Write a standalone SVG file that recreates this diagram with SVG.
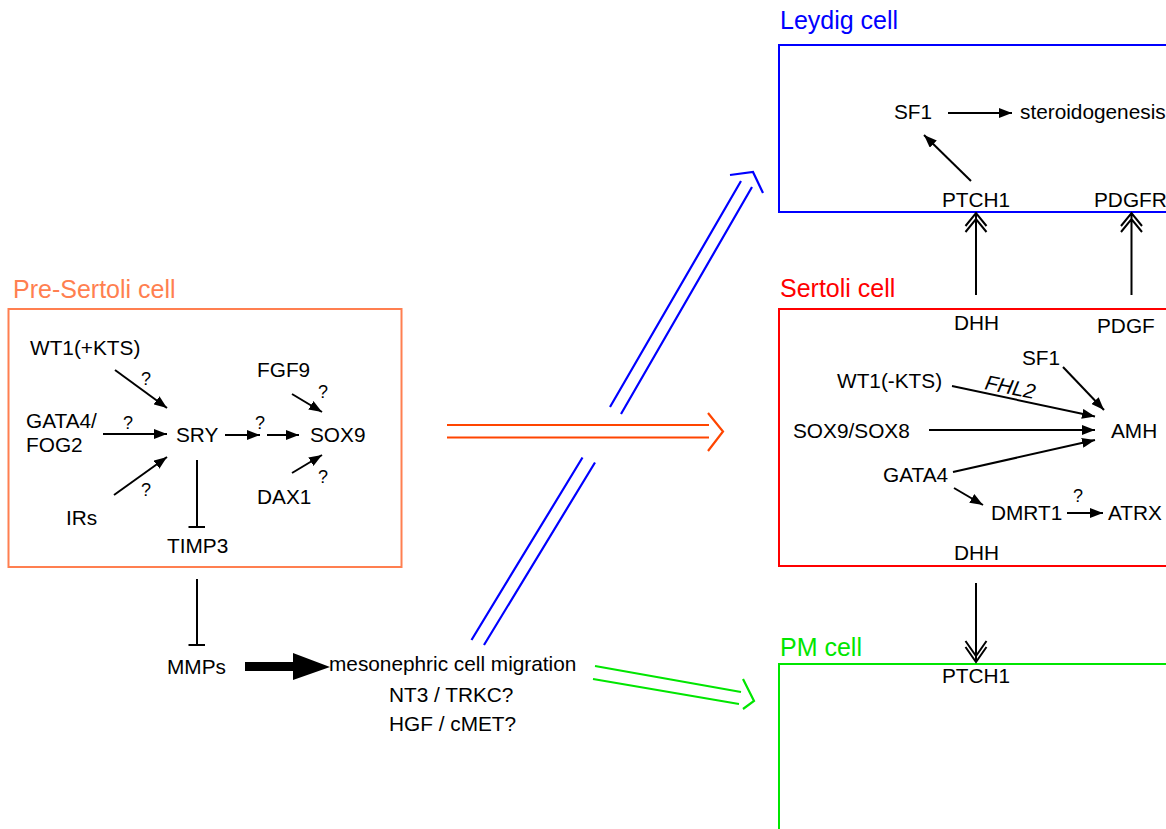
<svg xmlns="http://www.w3.org/2000/svg" width="1166" height="829" viewBox="0 0 1166 829">
<style>
text{font-family:"Liberation Sans",Arial,sans-serif;font-size:20.8px;fill:#000}
.q{font-size:18px}
.lbl{font-size:25px}
.ln{stroke:#000;stroke-width:2;fill:none}
.dbl{stroke-width:2.2;fill:none}
</style>
<defs>
<marker id="ah" markerUnits="userSpaceOnUse" markerWidth="13" markerHeight="10" refX="13" refY="5" orient="auto">
<path d="M0,0 L13,5 L0,10 z" fill="#000"/>
</marker>
</defs>
<rect width="1166" height="829" fill="#fff"/>

<g id="pre-sertoli">
<text class="lbl" x="13" y="298" style="fill:#FF7F50">Pre-Sertoli cell</text>
<rect x="8.5" y="309" width="393" height="258" fill="none" stroke="#FF7F50" stroke-width="2"/>
<text x="30" y="355">WT1(+KTS)</text>
<text x="257" y="377">FGF9</text>
<text x="26" y="428">GATA4/</text>
<text x="26" y="452">FOG2</text>
<text x="176" y="442">SRY</text>
<text x="310" y="442">SOX9</text>
<text x="257" y="504">DAX1</text>
<text x="66" y="525">IRs</text>
<text x="167" y="553">TIMP3</text>
<text class="q" x="141" y="385">?</text>
<text class="q" x="123" y="429">?</text>
<text class="q" x="141" y="496">?</text>
<text class="q" x="255" y="429">?</text>
<text class="q" x="318" y="398">?</text>
<text class="q" x="318" y="483">?</text>
</g>

<g id="leydig">
<text class="lbl" x="780" y="29" style="fill:#0000FF">Leydig cell</text>
<rect x="779" y="45" width="420" height="167" fill="none" stroke="#0000FF" stroke-width="2"/>
<text x="894" y="119">SF1</text>
<text x="1020" y="119">steroidogenesis</text>
<text x="942" y="207">PTCH1</text>
<text x="1094" y="207">PDGFR</text>
</g>

<g id="sertoli">
<text class="lbl" x="780" y="297" style="fill:#FF0000">Sertoli cell</text>
<rect x="779" y="309" width="420" height="257" fill="none" stroke="#FF0000" stroke-width="2"/>
<text x="954" y="330">DHH</text>
<text x="1097" y="333">PDGF</text>
<text x="1022" y="365">SF1</text>
<text x="837" y="388">WT1(-KTS)</text>
<text x="984" y="389" font-style="italic" transform="rotate(11.5 984 389)">FHL2</text>
<text x="793" y="438">SOX9/SOX8</text>
<text x="1111" y="438">AMH</text>
<text x="883" y="482">GATA4</text>
<text x="991" y="520">DMRT1</text>
<text x="1108" y="520">ATRX</text>
<text class="q" x="1073" y="502">?</text>
<text x="954" y="560">DHH</text>
</g>

<g id="pm">
<text class="lbl" x="780" y="656" style="fill:#00E600">PM cell</text>
<path d="M779,835 L779,664 L1170,664" fill="none" stroke="#00E600" stroke-width="2"/>
<text x="942" y="683">PTCH1</text>
</g>

<g id="migration">
<text x="167" y="674">MMPs</text>
<text x="329" y="671">mesonephric cell migration</text>
<text x="389" y="702">NT3 / TRKC?</text>
<text x="389" y="731">HGF / cMET?</text>
</g>

<g id="connectors">
<line class="ln" x1="115" y1="370" x2="167" y2="408" marker-end="url(#ah)"/>
<line class="ln" x1="103" y1="434" x2="167" y2="434" marker-end="url(#ah)"/>
<line class="ln" x1="114" y1="495" x2="167" y2="457" marker-end="url(#ah)"/>
<line class="ln" x1="225" y1="435" x2="260" y2="435" marker-end="url(#ah)"/>
<line class="ln" x1="267" y1="435" x2="299" y2="435" marker-end="url(#ah)"/>
<line class="ln" x1="292" y1="394" x2="322" y2="412" marker-end="url(#ah)"/>
<line class="ln" x1="292" y1="473" x2="322" y2="455" marker-end="url(#ah)"/>
<path class="ln" d="M197,460 V527 M188.5,527 H205"/>
<path class="ln" d="M197,579 V645 M188.5,645 H205"/>
<path d="M245,662 L293,662 L293,653 L330,667 L293,680 L293,671 L245,671 z" fill="#000"/>
<line class="ln" x1="948" y1="113" x2="1012" y2="113" marker-end="url(#ah)"/>
<line class="ln" x1="971" y1="181" x2="924" y2="135" marker-end="url(#ah)"/>
<path class="ln" d="M976,295 V213 M965.5,226 L976,213 L986.5,226 M965.5,232 L976,219 L986.5,232"/>
<path class="ln" d="M1131.5,295 V213 M1121,226 L1131.5,213 L1142,226 M1121,232 L1131.5,219 L1142,232"/>
<line class="ln" x1="1063" y1="367" x2="1104" y2="410" marker-end="url(#ah)"/>
<line class="ln" x1="952" y1="386" x2="1095" y2="416.5" marker-end="url(#ah)"/>
<line class="ln" x1="929" y1="430" x2="1095" y2="430" marker-end="url(#ah)"/>
<line class="ln" x1="953" y1="472" x2="1095" y2="440" marker-end="url(#ah)"/>
<line class="ln" x1="954" y1="488" x2="983" y2="505" marker-end="url(#ah)"/>
<line class="ln" x1="1067" y1="513" x2="1103" y2="513" marker-end="url(#ah)"/>
<path class="ln" d="M976,583 V662 M965.5,647 L976,662 L986.5,647 M965.5,641 L976,656 L986.5,641"/>
<path class="dbl" stroke="#FF4500" d="M447,425 H709 M447,437.5 H709 M708,413 L723,431.5 L708,451"/>
<path class="dbl" stroke="#0000FF" d="M610,407 L741,181 M621,414 L752,187 M730,175 L753,172 L763,193"/>
<path class="dbl" stroke="#0000FF" d="M471.5,640 L582.5,457.5 M484,645 L595,462.5"/>
<path class="dbl" stroke="#00E600" d="M595,666 L741,692 M593,679 L739,704 M743,679 L754,701 L743,709"/>
</g>
</svg>
